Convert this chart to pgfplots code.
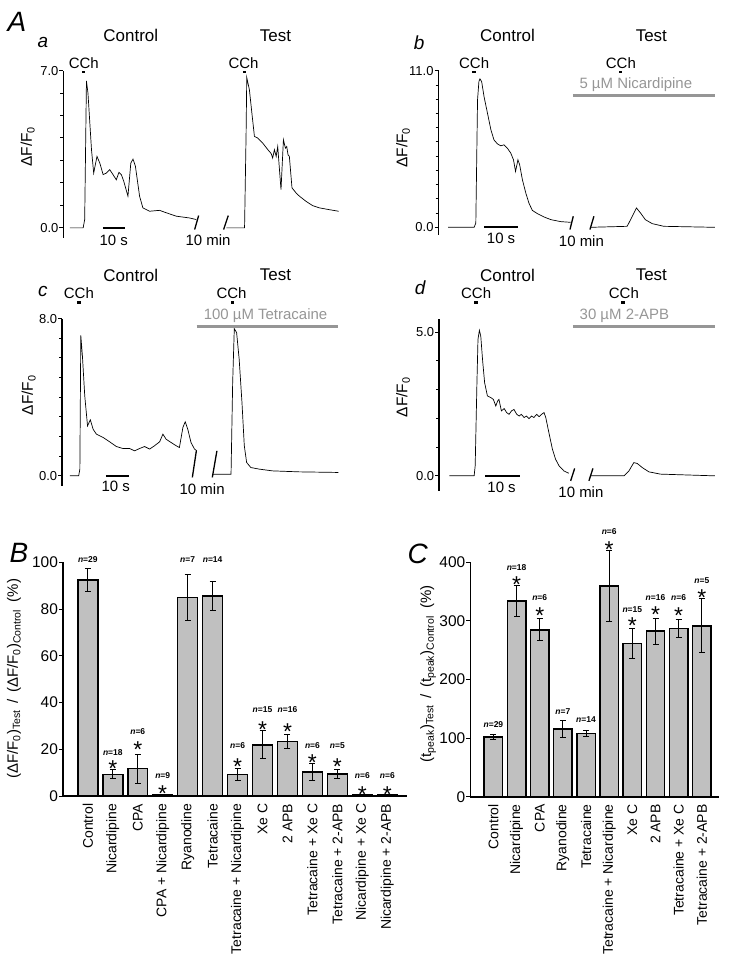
\documentclass[border=0pt]{standalone}
\usepackage{pgfplots}
\pgfplotsset{compat=1.18}
\usepackage{fontspec}
\setmainfont{Liberation Sans}
\setsansfont{Liberation Sans}
\definecolor{barfill}{RGB}{192,192,192}
\definecolor{drug}{RGB}{150,150,150}
\newcommand{\fs}[1]{\fontsize{#1}{#1}\selectfont}
\newcommand{\nn}[1]{\textbf{\textit{n}=#1}}
\tikzset{
  nlab/.style={font=\fs{8.5}},
  star/.style={font=\fs{23}, anchor=base, yshift=-13.2pt, inner sep=0pt},
}
\begin{document}
\begin{tikzpicture}[x=1pt,y=1pt]
\path (0,0) rectangle (750,958);
\pgfplotsset{
  trace/.style={
    axis y line=left, axis x line=none, enlargelimits=false, clip=false,
    anchor=south west, y axis line style={-, line width=1.6pt},
    tick align=outside, major tick length=4pt, minor tick length=3pt,
    tick style={black, line width=1pt},
    /pgf/number format/assume math mode=true,
    yticklabel={\pgfmathprintnumber[fixed,fixed zerofill,precision=1]{\tick}},
    yticklabel style={font=\fs{13}, inner sep=0.8pt},
    every axis plot post/.append style={black, line width=0.7pt, mark=none},
  },
  bars/.style={
    axis x line=bottom, axis y line=left, axis line style={-, line width=1.5pt},
    enlargelimits=false, clip=false, anchor=south west,
    tick align=outside, major tick length=4pt,
    ytick style={black, line width=1pt}, xtick style={draw=none},
    /pgf/number format/assume math mode=true,
    yticklabel style={font=\fs{15.5}, inner sep=0.8pt},
    xticklabel style={rotate=90, anchor=east, font=\fs{14}},
    ybar,
  },
}
% ---------- panel a ----------
\begin{axis}[trace, at={(63.5pt,719.8pt)}, x=2.2pt, y=22.51pt, xmin=-0.2, xmax=126,
  ymin=-0.44, ymax=7, ytick={0,7}, minor ytick={1,...,6}]
\addplot coordinates {(2.7,0)(8.8,0)(9.5,0.37)(10.3,6.54)(11.0,5.99)(12.6,3.48)(13.6,2.44)(15.1,3.18)(16.4,2.88)(17.9,2.37)(19.4,2.44)(20.9,2.59)(22.4,2.37)(23.9,2.14)(25.1,2.47)(26.2,2.37)(27.3,2.07)(29.2,1.41)(30.5,2.88)(31.5,3.06)(32.6,2.74)(34.5,1.41)(36.0,0.89)(39.1,0.74)(43.6,0.78)(46.7,0.67)(51.2,0.52)(57.3,0.44)(60.3,0.37)};
\addplot coordinates {(74.0,0)(82.3,0)(83.0,4.2)(83.3,6.69)(84.5,6.15)(85.8,4.96)(86.8,4.07)(88.3,4.0)(90.6,3.77)(92.9,3.48)(94.4,3.31)(95.1,3.11)(95.9,3.48)(96.7,3.18)(97.4,3.62)(98.2,2.59)(98.9,1.70)(100.0,3.92)(100.9,3.55)(101.5,3.62)(102.1,3.25)(102.7,3.18)(103.9,1.78)(105.8,1.55)(107.3,1.41)(110.3,1.18)(113.3,0.99)(116.4,0.89)(120.9,0.81)(125.1,0.74)};
\end{axis}
% ---------- panel b ----------
\begin{axis}[trace, at={(439.3pt,723pt)}, x=3.43pt, y=14.245pt, xmin=0, xmax=81,
  ymin=-0.51, ymax=11, ytick={0,11}, minor ytick={1,...,10}]
\addplot coordinates {(2.8,0)(10.4,0)(10.9,0.30)(11.4,8.96)(11.8,10.25)(12.1,10.44)(12.6,10.25)(13.3,9.19)(14.3,8.03)(15.3,6.86)(16.2,6.15)(17.2,5.87)(18.2,5.73)(19.1,5.80)(20.1,5.57)(21.1,5.22)(21.9,4.75)(22.5,3.93)(23.2,4.75)(23.7,4.40)(24.5,3.35)(25.5,2.41)(26.4,1.71)(27.4,1.19)(28.9,0.96)(30.8,0.73)(32.8,0.54)(35.7,0.40)(38.6,0.35)};
\addplot coordinates {(44.4,0)(55.1,0.07)(56.6,0.77)(57.8,1.36)(59.0,1.01)(60.4,0.54)(62.4,0.26)(65.8,0.07)(80.7,0)};
\end{axis}
% ---------- panel c ----------
\begin{axis}[trace, at={(62.3pt,471.5pt)}, x=2.33pt, y=19.675pt, xmin=0, xmax=119,
  ymin=-0.5, ymax=8, ytick={0,8}, minor ytick={1,...,7}]
\addplot coordinates {(3.3,0)(7.1,0)(7.6,0.34)(8.0,7.15)(8.7,6.10)(9.7,4.07)(10.9,2.54)(12.1,2.85)(13.3,2.37)(14.7,2.12)(17.6,1.95)(20.4,1.73)(23.3,1.49)(26.1,1.39)(29.0,1.39)(31.1,1.27)(33.3,1.39)(35.4,1.49)(37.6,1.36)(39.7,1.53)(41.9,1.73)(43.3,2.12)(44.7,1.86)(46.9,1.69)(49.0,1.53)(50.4,1.44)(51.9,2.46)(52.9,2.75)(54.0,2.37)(55.4,1.69)(56.9,1.36)(57.9,1.27)};
\addplot coordinates {(64.7,0.08)(72.6,0.08)(73.3,4.75)(74.0,7.49)(75.0,7.29)(76.1,5.93)(77.3,3.73)(78.3,1.53)(79.3,0.68)(81.1,0.42)(84.7,0.34)(90.4,0.25)(101.9,0.20)(118.7,0.17)};
\end{axis}
% ---------- panel d ----------
\begin{axis}[trace, at={(440pt,466.3pt)}, x=3.5pt, y=28.8pt, xmin=0, xmax=79,
  ymin=-0.52, ymax=5.46, ytick={0,5}, minor ytick={1,...,4}]
\addplot coordinates {(2.9,0)(10.0,0)(10.3,0.35)(10.8,3.24)(11.1,4.75)(11.5,5.06)(11.9,4.86)(12.4,4.05)(13.0,3.24)(13.8,2.78)(14.8,2.72)(15.5,2.66)(16.2,2.43)(16.7,2.60)(17.1,2.66)(17.8,2.26)(18.6,2.34)(19.3,2.20)(20.0,2.14)(20.7,2.26)(21.4,2.31)(22.2,2.14)(22.9,2.08)(23.5,2.14)(24.3,2.03)(25.0,2.08)(25.7,1.99)(26.4,2.08)(27.1,2.03)(27.9,2.14)(28.6,2.06)(29.3,2.14)(30.0,2.20)(30.5,2.03)(31.4,1.50)(32.4,0.93)(33.3,0.58)(34.3,0.35)(35.7,0.17)(37.1,0.09)};
\addplot coordinates {(43.3,0)(52.9,0)(54.3,0.17)(55.7,0.46)(56.7,0.43)(58.1,0.29)(60.0,0.14)(63.3,0.06)(78.9,0)};
\end{axis}
% ---------- panel B ----------
\begin{axis}[bars, at={(63pt,160.3pt)}, x=25pt, y=2.344pt, xmin=-1, xmax=12.8,
  ymin=0, ymax=100, ytick={0,20,...,100}, bar width=20pt,
  xtick={0,...,12},
  xticklabels={Control,Nicardipine,CPA,CPA + Nicardipine,Ryanodine,Tetracaine,Tetracaine + Nicardipine,Xe C,2 APB,Tetracaine + Xe C,Tetracaine + 2-APB,Nicardipine + Xe C,Nicardipine + 2-APB}]
\addplot[fill=barfill, draw=black, line width=1.5pt,
  error bars/.cd, y dir=both, y explicit,
  error bar style={line width=1pt},
  error mark options={rotate=90, mark size=3pt, line width=1pt}]
  coordinates {(0,92.5) +- (0,4.8) (1,9.4) +- (0,2.0) (2,11.8) +- (0,6.2) (3,0.5) +- (0,0)
  (4,85.0) +- (0,9.7) (5,85.5) +- (0,6.3) (6,9.3) +- (0,2.6) (7,22.0) +- (0,5.9)
  (8,23.4) +- (0,3.0) (9,10.4) +- (0,3.7) (10,9.6) +- (0,2.0) (11,0.5) +- (0,0) (12,0.5) +- (0,0)};
\node[nlab] at (0,101) {\nn{29}};
\node[nlab] at (1,18.5) {\nn{18}}; \node[star] at (1,14.0) {*};
\node[nlab] at (2,27.6) {\nn{6}}; \node[star] at (2,22.1) {*};
\node[nlab] at (3,8.7) {\nn{9}}; \node[star] at (3,3.3) {*};
\node[nlab] at (4,101) {\nn{7}};
\node[nlab] at (5,101) {\nn{14}};
\node[nlab] at (6,21.5) {\nn{6}}; \node[star] at (6,14.9) {*};
\node[nlab] at (7,37.1) {\nn{15}}; \node[star] at (7,30.6) {*};
\node[nlab] at (8,37.1) {\nn{16}}; \node[star] at (8,29.7) {*};
\node[nlab] at (9,21.5) {\nn{6}}; \node[star] at (9,16.5) {*};
\node[nlab] at (10,21.5) {\nn{5}}; \node[star] at (10,14.9) {*};
\node[nlab] at (11,8.7) {\nn{6}}; \node[star] at (11,3.0) {*};
\node[nlab] at (12,9.0) {\nn{6}}; \node[star] at (12,3.0) {*};
\end{axis}
% ---------- panel C ----------
\begin{axis}[bars, at={(471.1pt,159.7pt)}, x=23.2pt, y=0.5875pt, xmin=-1, xmax=9.73,
  ymin=0, ymax=400, ytick={0,100,...,400}, bar width=18.5pt,
  xtick={0,...,9},
  xticklabels={Control,Nicardipine,CPA,Ryanodine,Tetracaine,Tetracaine + Nicardipine,Xe C,2 APB,Tetracaine + Xe C,Tetracaine + 2-APB}]
\addplot[fill=barfill, draw=black, line width=1.5pt,
  error bars/.cd, y dir=both, y explicit,
  error bar style={line width=1pt},
  error mark options={rotate=90, mark size=3pt, line width=1pt}]
  coordinates {(0,102) +- (0,4) (1,333.6) +- (0,26) (2,284.8) +- (0,19) (3,116) +- (0,15)
  (4,107.7) +- (0,5.5) (5,359.7) +- (0,60) (6,261.5) +- (0,26) (7,282.5) +- (0,22)
  (8,287) +- (0,16) (9,291.6) +- (0,46)};
\node[nlab] at (0,123) {\nn{29}};
\node[nlab] at (1,391.5) {\nn{18}}; \node[star] at (1,371.6) {*};
\node[nlab] at (2,339) {\nn{6}}; \node[star] at (2,317.6) {*};
\node[nlab] at (3,144.7) {\nn{7}};
\node[nlab] at (4,132) {\nn{14}};
\node[nlab] at (5,452.8) {\nn{6}}; \node[star] at (5,430) {*};
\node[nlab] at (6,319) {\nn{15}}; \node[star] at (6,300.6) {*};
\node[nlab] at (7,339) {\nn{16}}; \node[star] at (7,320.5) {*};
\node[nlab] at (8,339) {\nn{6}}; \node[star] at (8,317.6) {*};
\node[nlab] at (9,368.7) {\nn{5}}; \node[star] at (9,349) {*};
\end{axis}
% ---------- annotations ----------
\node[font=\fs{28}\itshape] at (17,936) {A};
\node[font=\fs{28}\itshape] at (19,404) {B};
\node[font=\fs{28}\itshape] at (418.5,403) {C};
\node[font=\fs{19}\itshape] at (43,915.5) {a};
\node[font=\fs{19}\itshape] at (420,915.5) {b};
\node[font=\fs{19}\itshape] at (43,666) {c};
\node[font=\fs{19}\itshape] at (421,669.5) {d};
\foreach \x/\y/\t in {131/922.5/Control,276/922.5/Test,508.5/922.5/Control,652.5/922.5/Test,131/682.5/Control,276/682.5/Test,508.5/682.5/Control,652.5/682.5/Test}
  \node[font=\fs{17}] at (\x,\y) {\t};
\foreach \x/\y/\d/\e in {84/895/83.5/886,244/895/245/886,475/894.7/475/886,622/894.7/621.7/886,79/664/79/655,232/664/232.7/655,477/664/476.7/655,625/664/624.3/655}{
  \node[font=\fs{15}] at (\x,\y) {CCh};
  \fill (\d-1.75,\e-1.3) rectangle +(3.5,2.6);
}
% drug bars
\draw[drug, line width=3pt] (574,862.3) -- (716,862.3);
\node[drug, font=\fs{15}] at (637,873) {5 µM Nicardipine};
\draw[drug, line width=3pt] (197,631) -- (339,631);
\node[drug, font=\fs{15}] at (266,641.3) {100 µM Tetracaine};
\draw[drug, line width=3pt] (574,631) -- (716,631);
\node[drug, font=\fs{15}] at (625.5,641.3) {30 µM 2-APB};
% scale bars
\draw[line width=2pt] (103,729.7) -- (125,729.7);
\draw[line width=2pt] (485,730.3) -- (519,730.3);
\draw[line width=2pt] (106,481.3) -- (129.3,481.3);
\draw[line width=2pt] (486,481.3) -- (521,481.3);
\foreach \x/\y in {114/717,502/719,116/470.5,502.5/470}
  \node[font=\fs{15}] at (\x,\y) {10 s};
\foreach \x/\y in {208.5/717,582.5/716.3,202.5/468,582/465}
  \node[font=\fs{15}] at (\x,\y) {10 min};
% breaks
\draw[line width=1.3pt] (195,728) -- (199,742) (224,728) -- (228.7,742);
\draw[line width=1.3pt] (571,728) -- (574.3,741.3) (591,728) -- (595,741.3);
\draw[line width=1.3pt] (196.7,506.3) -- (192.7,479.7) (217.3,506.3) -- (212.7,479.7);
\draw[line width=1.3pt] (571.7,476.3) -- (575.7,488.7) (590,476.3) -- (594,488.7);
% y labels
\foreach \x/\y in {32/811,408/810,33/562,408/560}
  \node[font=\fs{15.5}, rotate=90, anchor=base] at (\x,\y) {ΔF/F\textsubscript{0}};
\node[font=\fs{15}, rotate=90, anchor=base] at (18,278)
  {(ΔF/F\textsubscript{0})\textsubscript{Test} \,/\, (ΔF/F\textsubscript{0})\textsubscript{Control}\enspace(\%)};
\node[font=\fs{15}, rotate=90, anchor=base] at (432,283)
  {(t\textsubscript{peak})\textsubscript{Test} \,/\, (t\textsubscript{peak})\textsubscript{Control}\enspace(\%)};
\end{tikzpicture}
\end{document}
